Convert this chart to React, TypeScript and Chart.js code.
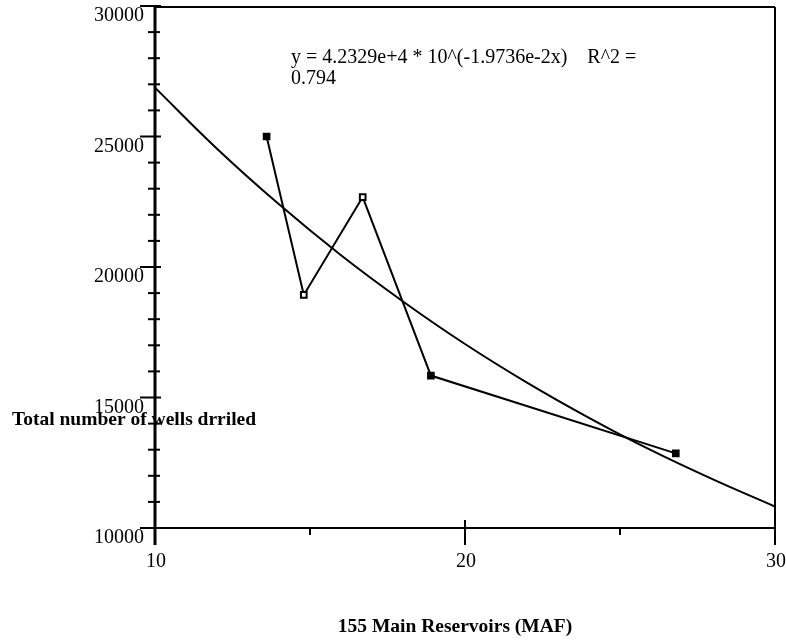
import React, { useEffect, useRef } from "react";
import { Chart, registerables } from "chart.js";

Chart.register(...registerables);

// ---- data ----
const reservoirMAF = [13.6, 14.8, 16.7, 18.9, 26.8];
const wellsDrilled = [25000, 18930, 22680, 15840, 12860];
const pointFilled = [true, false, false, true, true];

// trend curve (exponential fit shown in the chart), sampled values
const trendX = [10, 12, 14, 16, 18, 20, 22, 24, 26, 28, 30];
const trendY = [26870, 24530, 22400, 20450, 18680, 17050, 15570, 14220, 12980, 11860, 10820];

const yMajorTicks = [10000, 15000, 20000, 25000, 30000];
const yTickLabels = ["10000", "15000", "20000", "25000", "30000"];
const yMinorTicks = [11000, 12000, 13000, 14000, 16000, 17000, 18000, 19000, 21000, 22000, 23000, 24000, 26000, 27000, 28000, 29000];
const xMajorTicks = [10, 20, 30];
const xTickLabels = ["10", "20", "30"];
const xMinorTicks = [15, 25];

const equationLine1 = "y = 4.2329e+4 * 10^(-1.9736e-2x)    R^2 =";
const equationLine2 = "0.794";
const yTitle = "Total number of wells drriled";
const xTitle = "155 Main Reservoirs (MAF)";

const SERIF = '"Liberation Serif", "Times New Roman", serif';

const framePlugin = {
  id: "framePlugin",
  afterDraw(chart: any) {
    const { ctx, chartArea, scales } = chart;
    const xs = scales.x;
    const ys = scales.y;
    const L = chartArea.left, R = chartArea.right, T = chartArea.top, B = chartArea.bottom;
    ctx.save();
    ctx.strokeStyle = "#000";
    ctx.lineCap = "butt";
    // frame
    ctx.lineWidth = 2;
    ctx.beginPath();
    ctx.moveTo(L, T + 1);
    ctx.lineTo(R, T + 1);
    ctx.moveTo(R, T + 1);
    ctx.lineTo(R, B);
    ctx.stroke();
    // left axis (extended below)
    ctx.lineWidth = 3;
    ctx.beginPath();
    ctx.moveTo(L, T);
    ctx.lineTo(L, B + 17);
    ctx.stroke();
    // bottom axis (extended left)
    ctx.lineWidth = 2;
    ctx.beginPath();
    ctx.moveTo(L - 15, B);
    ctx.lineTo(R, B);
    ctx.stroke();

    // y ticks
    ctx.lineWidth = 2;
    yMajorTicks.forEach((v) => {
      const y = ys.getPixelForValue(v);
      ctx.beginPath();
      ctx.moveTo(L - 15, y);
      ctx.lineTo(L + 6, y);
      ctx.stroke();
    });
    yMinorTicks.forEach((v) => {
      const y = ys.getPixelForValue(v);
      ctx.beginPath();
      ctx.moveTo(L - 7, y);
      ctx.lineTo(L + 5, y);
      ctx.stroke();
    });
    // x ticks
    xMajorTicks.forEach((v) => {
      const x = xs.getPixelForValue(v);
      ctx.beginPath();
      ctx.moveTo(x, B - 8);
      ctx.lineTo(x, B + 17);
      ctx.stroke();
    });
    xMinorTicks.forEach((v) => {
      const x = xs.getPixelForValue(v);
      ctx.beginPath();
      ctx.moveTo(x, B - 1);
      ctx.lineTo(x, B + 7);
      ctx.stroke();
    });

    // tick labels
    ctx.fillStyle = "#000";
    ctx.font = `20px ${SERIF}`;
    ctx.textAlign = "right";
    ctx.textBaseline = "alphabetic";
    yMajorTicks.forEach((v, i) => {
      const y = ys.getPixelForValue(v);
      ctx.fillText(yTickLabels[i], L - 11, y + 15);
    });
    ctx.textAlign = "center";
    xMajorTicks.forEach((v, i) => {
      const x = xs.getPixelForValue(v);
      ctx.fillText(xTickLabels[i], x + 1, B + 39);
    });

    // titles
    ctx.font = `bold 19.5px ${SERIF}`;
    ctx.textAlign = "left";
    ctx.fillText(yTitle, 12, 425);
    ctx.textAlign = "center";
    ctx.fillText(xTitle, 455, 632);

    // equation
    ctx.font = `20px ${SERIF}`;
    ctx.textAlign = "left";
    ctx.fillText(equationLine1, 291, 63);
    ctx.fillText(equationLine2, 291, 84);
    ctx.restore();
  },
};

export default function App() {
  const ref = useRef<HTMLCanvasElement | null>(null);
  useEffect(() => {
    if (!ref.current) return;
    const chart = new Chart(ref.current, {
      type: "scatter",
      data: {
        datasets: [
          {
            data: trendX.map((x, i) => ({ x, y: trendY[i] })),
            showLine: true,
            borderColor: "#000",
            borderWidth: 2,
            pointRadius: 0,
            tension: 0.4,
          },
          {
            data: reservoirMAF.map((x, i) => ({ x, y: wellsDrilled[i] })),
            showLine: true,
            borderColor: "#000",
            borderWidth: 2,
            pointStyle: "rect",
            pointRadius: 4,
            pointBorderWidth: 2,
            pointBorderColor: "#000",
            pointBackgroundColor: pointFilled.map((f) => (f ? "#000" : "#fff")),
          },
        ],
      },
      options: {
        responsive: false,
        devicePixelRatio: 1,
        animation: false,
        layout: { padding: { left: 155, right: 11, top: 4, bottom: 112 } },
        plugins: { legend: { display: false }, tooltip: { enabled: false } },
        scales: {
          x: { type: "linear", min: 10, max: 30, display: false },
          y: { type: "linear", min: 10000, max: 30000, display: false },
        },
      },
      plugins: [framePlugin],
    });
    return () => chart.destroy();
  }, []);
  return (
    <div style={{ position: "fixed", left: 0, top: 0, width: 786, height: 640, background: "#fff" }}>
      <canvas ref={ref} width={786} height={640} />
    </div>
  );
}
